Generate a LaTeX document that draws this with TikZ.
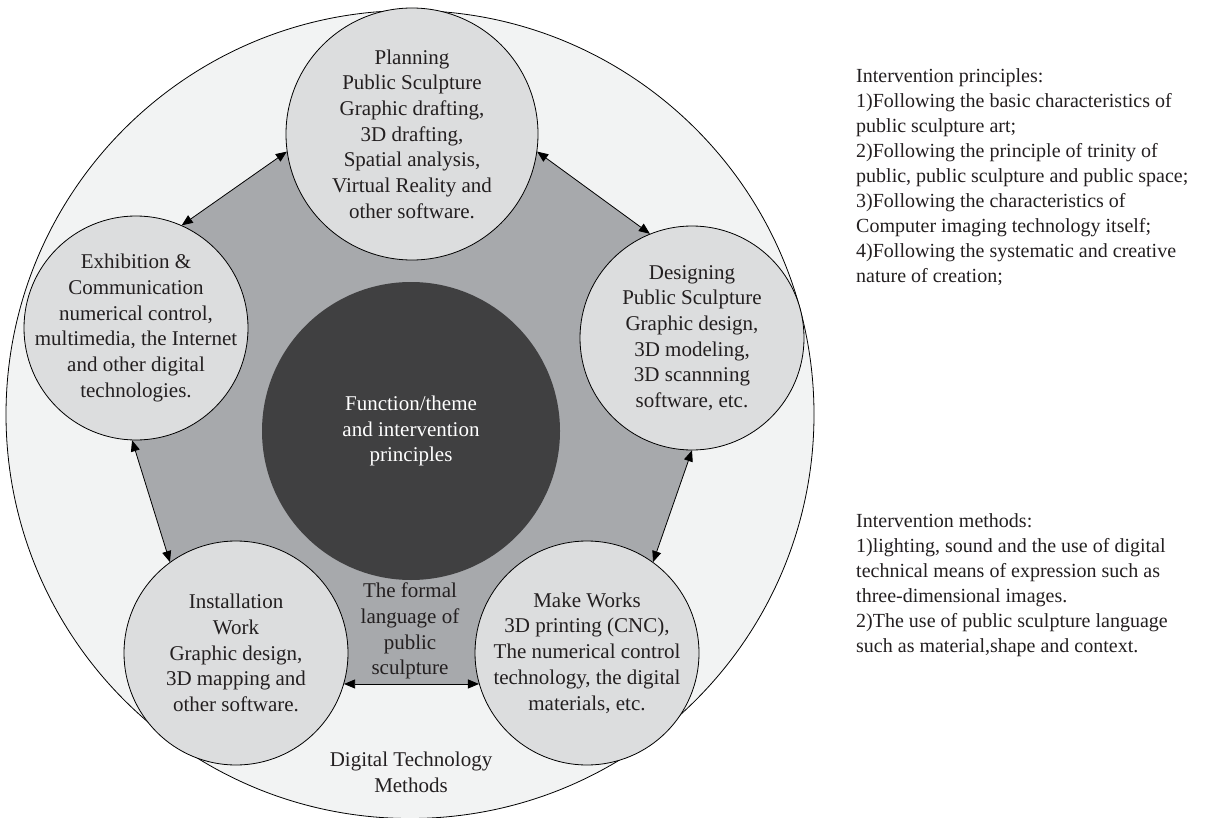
\documentclass[tikz,border=0pt]{standalone}
\usepackage{fontspec}
\setmainfont{Liberation Serif}
\usetikzlibrary{arrows.meta,backgrounds}
\definecolor{outerfill}{HTML}{F2F3F3}
\definecolor{pentfill}{HTML}{A7A9AC}
\definecolor{smallfill}{HTML}{DCDDDE}
\definecolor{darkfill}{HTML}{404041}
\definecolor{ink}{HTML}{231F20}
\begin{document}
\begin{tikzpicture}[x=1pt,y=-1pt,
  stage/.style={circle, draw=black, line width=0.8pt, fill=smallfill, inner sep=0pt},
  ctext/.style={font=\fontsize{21}{25.7}\selectfont, text=ink, align=center},
  wtext/.style={font=\fontsize{21}{25.7}\selectfont, text=white, align=center},
  rtext/.style={font=\fontsize{20}{25}\selectfont, text=ink, align=left, anchor=north west, inner sep=0pt},
  link/.style={line width=0.8pt, {Triangle[length=11pt,width=9pt]}-{Triangle[length=11pt,width=9pt]}}]
\useasboundingbox (0,0) rectangle (1220,818);
% stages
\node[stage, minimum size=252pt, label={[ctext]center:{Planning\\Public Sculpture\\Graphic drafting,\\3D drafting,\\Spatial analysis,\\Virtual Reality and\\other software.}}] (plan) at (412,134) {};
\node[stage, minimum size=224pt, label={[ctext]center:{Designing\\Public Sculpture\\Graphic design,\\3D modeling,\\3D scannning\\software, etc.}}] (des) at (692,338) {};
\node[stage, minimum size=224pt, label={[ctext]center:{Make Works\\3D printing (CNC),\\The numerical control\\technology, the digital\\materials, etc.}}] (make) at (587,653) {};
\node[stage, minimum size=224pt, label={[ctext]center:{Installation\\Work\\Graphic design,\\3D mapping and\\other software.}}] (inst) at (236,653) {};
\node[stage, minimum size=224pt, label={[ctext]center:{Exhibition \&\\Communication\\numerical control,\\multimedia, the Internet\\and other digital\\technologies.}}] (exh) at (136,328) {};
% background: outer circle and pentagon
\begin{pgfonlayer}{background}
\fill[white] (0,0) rectangle (1220,818);
\node[circle, draw=black, line width=0.8pt, fill=outerfill, minimum size=808pt, inner sep=0pt] (outer) at (410,414.5) {};
\coordinate (vt) at (intersection of exh.66--plan.188 and plan.-8--des.112);
\coordinate (vr) at (intersection of plan.-8--des.112 and des.270--make.54);
\coordinate (vbr) at (intersection of des.270--make.54 and make.196--inst.-16);
\coordinate (vbl) at (intersection of make.196--inst.-16 and inst.126--exh.268);
\coordinate (vl) at (intersection of inst.126--exh.268 and exh.66--plan.188);
\fill[pentfill] (vt) -- (vr) -- (vbr) -- (vbl) -- (vl) -- cycle;
\end{pgfonlayer}
% core
\node[circle, fill=darkfill, minimum size=298pt, inner sep=0pt, label={[wtext]center:{Function/theme\\and intervention\\principles}}] (core) at (411,431) {};
% links
\draw[link] (plan.-8) -- (des.112);
\draw[link] (des.270) -- (make.54);
\draw[link] (make.196) -- (inst.-16);
\draw[link] (inst.126) -- (exh.268);
\draw[link] (exh.66) -- (plan.188);
% free texts
\node[ctext] (formal) at (410,631) {The formal\\language of\\public\\sculpture};
\node[ctext] (dtm) at (411,772) {Digital Technology\\Methods};
\node[rtext] (princ) at (856,68) {Intervention principles:\\1)Following the basic characteristics of\\public sculpture art;\\2)Following the principle of trinity of\\public, public sculpture and public space;\\3)Following the characteristics of\\Computer imaging technology itself;\\4)Following the systematic and creative\\nature of creation;};
\node[rtext] (meth) at (856,513) {Intervention methods:\\1)lighting, sound and the use of digital\\technical means of expression such as\\three-dimensional images.\\2)The use of public sculpture language\\such as material,shape and context.};
\end{tikzpicture}
\end{document}
